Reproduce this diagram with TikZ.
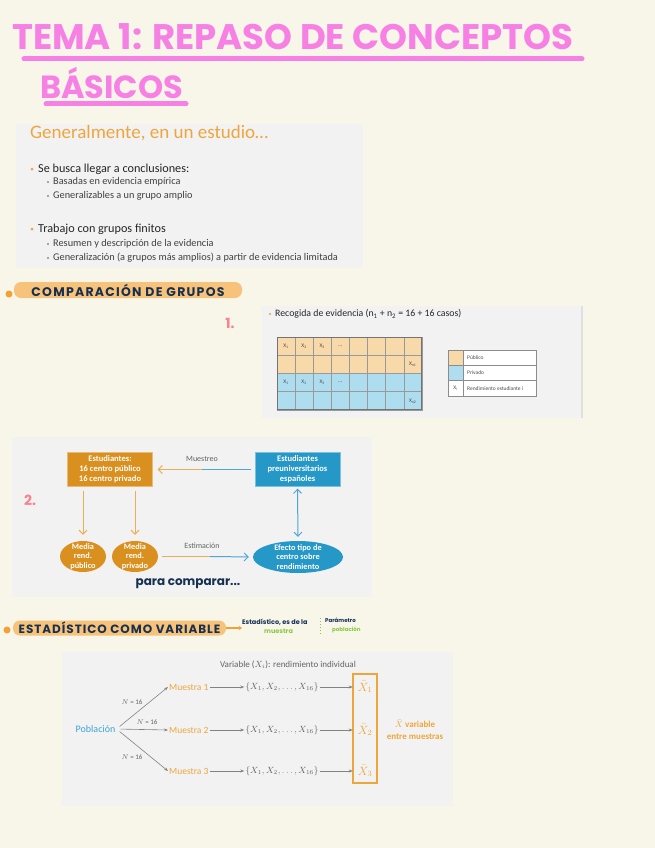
\documentclass[tikz,border=0pt]{standalone}
\usepackage{fontspec}
\setmainfont{Carlito}
\newfontfamily\hand{Poppins}
\newfontfamily\handwide{Poppins}[LetterSpace=10]
\usetikzlibrary{arrows.meta,shapes.geometric,positioning}
\definecolor{paper}{RGB}{248,245,233}
\definecolor{slide}{RGB}{242,242,242}
\definecolor{tpink}{RGB}{246,128,228}
\definecolor{hlorange}{RGB}{247,194,122}
\definecolor{dotorange}{RGB}{245,160,50}
\definecolor{navy}{RGB}{22,48,82}
\definecolor{pubtan}{RGB}{248,217,170}
\definecolor{privblue}{RGB}{174,221,240}
\definecolor{boxor}{RGB}{217,144,30}
\definecolor{boxbl}{RGB}{38,152,200}
\definecolor{slor}{RGB}{238,166,60}
\definecolor{lnor}{RGB}{235,175,85}
\definecolor{lnbl}{RGB}{80,165,215}
\definecolor{txtgray}{RGB}{100,100,100}
\definecolor{ngreen}{RGB}{140,200,70}
\definecolor{poblue}{RGB}{60,165,215}
\definecolor{numpink}{RGB}{250,130,140}
\newcommand{\fsz}[2]{\fontsize{#1}{#2}\selectfont}

\begin{document}
\begin{tikzpicture}[x=1pt,y=-1pt,
            hl/.style={fill=hlorange,rounded corners=7pt,minimum height=16pt,inner sep=0pt,text=navy,font=\handwide\bfseries\fsz{12.5}{13}},
            lone/.style={anchor=west,inner sep=0pt,text=black!85,font=\fsz{12.2}{13}},
            ltwo/.style={anchor=west,inner sep=0pt,text=black!75,font=\fsz{10.3}{11}},
            cell/.style={inner sep=0pt,text=black!70,font=\fsz{5.5}{6}},
            obox/.style={fill=boxor,draw=boxor!60,text=white,align=center,minimum width=85pt,minimum height=34pt,inner sep=0pt,font=\bfseries\fsz{8.5}{10}},
            bbox/.style={obox,fill=boxbl,draw=boxbl!60},
            oell/.style={ellipse,fill=boxor,text=white,align=center,minimum width=46pt,minimum height=31pt,inner xsep=0pt,inner ysep=-7pt,font=\bfseries\fsz{8.3}{9.5}},
            bell/.style={oell,fill=boxbl,minimum width=90pt,minimum height=32pt},
            lbl/.style={inner sep=0pt,text=txtgray,font=\fsz{8}{9}},
            barb/.style={-{Straight Barb[length=4pt,width=8pt]},line width=1pt},
            gtxt/.style={inner sep=1pt,text=txtgray,font=\fsz{9}{10}},
            otxt/.style={inner sep=1pt,text=slor,font=\fsz{9.5}{10}},
            garr/.style={-{Stealth[length=4pt,width=3pt]},draw=txtgray!80,line width=0.6pt},
            note/.style={anchor=west,inner sep=0pt,font=\hand\bfseries\fsz{6.5}{7}}]
            \useasboundingbox (0,0) rectangle (655,848);
            \fill[paper] (0,0) rectangle (655,848);

            \node[anchor=west,inner sep=0pt,text=tpink,font=\hand\bfseries\fsz{35.5}{36}] (title) at (12,37) {TEMA 1: REPASO DE CONCEPTOS};
            \draw[tpink,line width=5pt,line cap=round] (24,59) -- (582,59);
            \node[anchor=west,inner sep=0pt,text=tpink,font=\hand\bfseries\fsz{32}{32}] (basicos) at (40,83) {BÁSICOS};
            \draw[tpink,line width=5pt,line cap=round] (46,104) -- (186,104);

            \fill[slide] (16,124) rectangle (363,268);
            \node[anchor=west,inner sep=0pt,text=slor,font=\fsz{19}{20}] (gen) at (30,133) {Generalmente, en un estudio…};
            \foreach \y in {169,229}{\fill[dotorange] (32,\y) circle (1.5);}
            \foreach \y in {182,196,244,258}{\fill[black!45] (48,\y) circle (1.2);}
            \node[lone] (conc) at (38,169) {Se busca llegar a conclusiones:};
            \node[ltwo] (basa) at (53,182) {Basadas en evidencia empírica};
            \node[ltwo] (gene) at (53,196) {Generalizables a un grupo amplio};
            \node[lone] (trab) at (38,229) {Trabajo con grupos finitos};
            \node[ltwo] (resu) at (53,244) {Resumen y descripción de la evidencia};
            \node[ltwo] (limi) at (53,258) {Generalización (a grupos más amplios) a partir de evidencia limitada};

            \fill[dotorange] (9,294) circle (3.5);
            \node[hl,minimum width=228pt] (comp) at (128,290) {COMPARACIÓN DE GRUPOS};
            \node[inner sep=0pt,text=numpink,font=\hand\bfseries\fsz{14}{14}] (uno) at (230,323) {1.};

            \fill[slide] (262,306) rectangle (582,418);
            \draw[black!12,line width=2pt] (582,306) -- (582,418);
            \fill[dotorange] (270,314) circle (1.2);
            \node[anchor=west,inner sep=0pt,text=black!85,font=\fsz{9.8}{10}] (reco) at (275,314) {Recogida de evidencia (n\textsubscript{1} + n\textsubscript{2} = 16 + 16 casos)};
            \foreach \r/\col in {0/pubtan,1/pubtan,2/privblue,3/privblue}{
                \foreach \c in {0,...,7}{\filldraw[fill=\col,draw=black!40,line width=0.4pt] (277+18.1*\c,337+18.2*\r) rectangle ++(18.1,18.2);}}
            \draw[black!55,line width=0.8pt] (277,337) rectangle (421.8,409.8);
            \foreach \r in {0,2}{
                \foreach \c/\t in {0/1,1/2,2/3}{\node[cell] (x\r\c) at (286+18.1*\c,346+18.2*\r) {X\textsubscript{\t}};}
                \node[cell] (d\r) at (340.3,346+18.2*\r) {...};}
            \node[cell] (xn1) at (412.7,364.4) {X\textsubscript{n1}};
            \node[cell] (xn2) at (412.7,400.8) {X\textsubscript{n2}};
            \filldraw[fill=white,draw=black!45,line width=0.5pt] (448,350) rectangle (536,396);
            \filldraw[fill=pubtan,draw=black!45,line width=0.5pt] (448,350) rectangle (463,365.3);
            \filldraw[fill=privblue,draw=black!45,line width=0.5pt] (448,365.3) rectangle (463,380.6);
            \draw[black!45,line width=0.5pt] (463,350) -- (463,396) (448,365.3) -- (536,365.3) (448,380.6) -- (536,380.6);
            \node[cell,anchor=west] (lpub) at (467,357.7) {Público};
            \node[cell,anchor=west] (lpri) at (467,373) {Privado};
            \node[cell] (lxi) at (455.5,388.3) {X\textsubscript{i}};
            \node[cell,anchor=west] (lren) at (467,388.3) {Rendimiento estudiante \textit{i}};

            \fill[slide] (12,437) rectangle (372,597);
            \node[obox] (est) at (110,469.5) {Estudiantes:\\16 centro público\\16 centro privado};
            \node[bbox] (pre) at (297.5,469.5) {Estudiantes\\preuniversitarios\\españoles};
            \node[oell] (mpub) at (83,556.5) {Media\\rend.\\público};
            \node[oell] (mpri) at (135,556.5) {Media\\rend.\\privado};
            \node[bell] (efe) at (298,557) {Efecto tipo de\\centro sobre\\rendimiento};
            \node[lbl] (muestreo) at (202,459) {Muestreo};
            \node[lbl] (estima) at (202,546) {Estimación};
            \coordinate (mq) at (202,469.5);
            \coordinate (em) at (210,556.5);
            \draw[lnbl,line width=1pt,shorten <=4pt] (pre.west) -- (mq);
            \draw[lnor,barb,shorten >=5pt] (mq) -- (est.east);
            \draw[lnor,line width=1pt,shorten <=4pt] (mpri.east) -- (em);
            \draw[lnbl,barb,shorten >=4pt] (em) -- (efe.west);
            \draw[lnor,barb,shorten <=4pt,shorten >=6pt] (est.south -| mpub.north) -- (mpub.north);
            \draw[lnor,barb,shorten <=4pt,shorten >=6pt] (est.south -| mpri.north) -- (mpri.north);
            \draw[lnbl,line width=1pt,{Straight Barb[length=4pt,width=8pt]}-{Straight Barb[length=4pt,width=8pt]},shorten <=2pt,shorten >=4pt] (pre.south) -- (efe.north);
            \node[inner sep=0pt,text=navy,font=\hand\bfseries\fsz{12}{12}] (compa) at (188,584) {para comparar...};
            \node[inner sep=0pt,text=numpink,font=\hand\bfseries\fsz{14}{14}] (dos) at (30,500) {2.};

            \fill[dotorange] (7,630) circle (3.5);
            \node[hl,minimum width=213pt,minimum height=15pt,font=\hand\bfseries\fsz{12}{12}\addfontfeature{LetterSpace=8}] (estad) at (119.5,628) {ESTADÍSTICO COMO VARIABLE};
            \node[note,text=navy] (esdl) at (242,622) {Estadístico, es de la};
            \node[note,text=ngreen] (mues) at (264,631) {muestra};
            \draw[ngreen,dotted,line width=1pt] (320,618) -- (320,636);
            \node[note,text=navy,font=\hand\bfseries\fsz{5.5}{6}] (param) at (325,620) {Parámetro};
            \node[note,text=ngreen,font=\hand\bfseries\fsz{5.5}{6}] (pobl) at (332,629.5) {población};
            \draw[dotorange,line width=1.5pt,-{Stealth[length=3pt,width=4pt]}] (estad.east) -- (esdl.west |- estad.east);

            \fill[slide] (62,652) rectangle (453,806);
            \node[gtxt] (var) at (288,665) {Variable ($X_i$): rendimiento individual};
            \node[inner sep=1pt,text=poblue,font=\fsz{10}{11}] (pob) at (95.5,729) {Población};
            \draw[slor,line width=1.2pt] (353,674) rectangle (377,783);
            \foreach \i/\y in {1/687,2/730,3/771}{
                \node[otxt,anchor=west] (m\i) at (168,\y) {Muestra \i};
                \node[gtxt] (s\i) at (282,\y) {$\{X_1,X_2,\dots,X_{16}\}$};
                \node[otxt,minimum width=24pt,font=\fsz{12}{12}] (xb\i) at (365,\y) {$\bar{X}_{\i}$};
                \draw[garr,shorten <=4pt] (pob.east) -- (m\i.west);
                \draw[garr] (m\i.east) -- (s\i.west);
                \draw[garr] (s\i.east) -- (xb\i.west);}
            \node[gtxt,font=\fsz{7}{7}] (na) at (132,702) {$N$ = 16};
            \node[gtxt,font=\fsz{7}{7}] (nb) at (147,722) {$N$ = 16};
            \node[gtxt,font=\fsz{7}{7}] (nc) at (132,757) {$N$ = 16};
            \node[otxt,align=center,font=\bfseries\fsz{9}{12}] (xvar) at (415,730) {$\bar{X}$ variable\\entre muestras};
        \end{tikzpicture}
\end{document}
